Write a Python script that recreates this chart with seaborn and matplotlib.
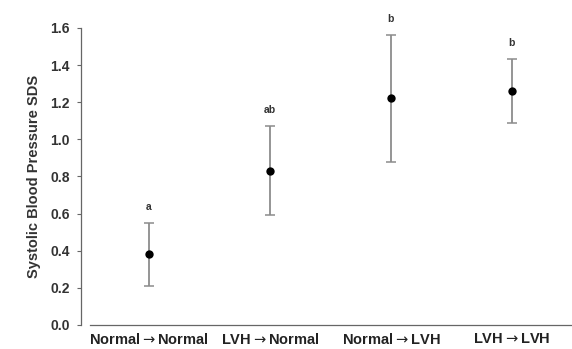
import numpy as np
import pandas as pd
import matplotlib
matplotlib.use("Agg")
import matplotlib.pyplot as plt
import matplotlib.transforms as mtransforms
import seaborn as sns

# =========================================================
# DATA
# =========================================================
groups = [r"Normal$\rightarrow$Normal", r"LVH$\rightarrow$Normal",
          r"Normal$\rightarrow$LVH", r"LVH$\rightarrow$LVH"]
means = [0.38, 0.83, 1.22, 1.26]
lower = [0.21, 0.59, 0.88, 1.09]
upper = [0.55, 1.07, 1.56, 1.43]
letters = ["a", "ab", "b", "b"]
y_ticks = [0.0, 0.2, 0.4, 0.6, 0.8, 1.0, 1.2, 1.4, 1.6]

df = pd.DataFrame({"group": groups, "mean": means, "lo": lower, "hi": upper})
df["pos"] = np.arange(len(df))

# =========================================================
# PLOT
# =========================================================
sns.set_style("white")
plt.rcParams["font.family"] = ["Liberation Sans", "DejaVu Sans"]
plt.rcParams["mathtext.fontset"] = "dejavusans"

fig = plt.figure(figsize=(5.72, 3.49), dpi=100)
ax = fig.add_axes([0.1416, 0.069, 0.858, 0.851])

ax.errorbar(
    df["pos"], df["mean"],
    yerr=[df["mean"] - df["lo"], df["hi"] - df["mean"]],
    fmt="none", ecolor="#8c8c8c", elinewidth=1.3, capsize=3.6, capthick=1.1, zorder=1
)
sns.scatterplot(data=df, x="pos", y="mean", color="black", s=36, edgecolor="black",
                linewidth=0, ax=ax, zorder=3)

for i, row in df.iterrows():
    ax.annotate(letters[i], (row["pos"], row["hi"]), xytext=(0, 8), textcoords="offset points",
                ha="center", va="bottom", fontsize=7.5, fontweight="bold", color="#333333",
                annotation_clip=False)

ax.set_xlim(-0.562, 3.496)
ax.set_ylim(0, 1.6)
ax.set_yticks(y_ticks)
ax.set_yticklabels([f"{t:.1f}" for t in y_ticks], fontsize=10, fontweight="bold", color="#333333")
ax.set_xticks(df["pos"])
ax.set_xticklabels(groups, fontsize=10.5, fontweight="bold", color="#222222")
ax.set_xlabel("")
ax.set_ylabel("Systolic Blood Pressure SDS", fontsize=10.5, fontweight="bold", color="#333333",
              labelpad=7)

# category labels sit a little right of the points in the original
shifts = [-2, 9, 9, 7]
for lab, dx in zip(ax.get_xticklabels(), shifts):
    lab.set_transform(lab.get_transform() + mtransforms.ScaledTranslation(dx / 100, 0, fig.dpi_scale_trans))

ax.spines["top"].set_visible(False)
ax.spines["right"].set_visible(False)
ax.spines["left"].set_color("#666666")
ax.spines["bottom"].set_color("#666666")
ax.spines["left"].set_linewidth(0.9)
ax.spines["bottom"].set_linewidth(0.9)
ax.spines["bottom"].set_bounds(-0.49, 3.496)
ax.tick_params(axis="y", which="both", left=True, length=3, width=0.8, color="#666666", pad=5)
ax.tick_params(axis="x", which="both", bottom=False, length=0, pad=5)

fig.savefig("out.png", dpi=100)
